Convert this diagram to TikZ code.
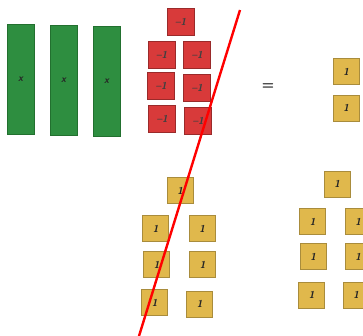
\documentclass[tikz,border=0pt]{standalone}
\usepackage{xcolor}
\usepackage{tikz}
\usetikzlibrary{positioning}

\definecolor{barfill}{HTML}{2E8E40}
\definecolor{bardraw}{HTML}{22702F}
\definecolor{negfill}{HTML}{D83A3A}
\definecolor{negdraw}{HTML}{9A2A2A}
\definecolor{posfill}{HTML}{E0B84C}
\definecolor{posdraw}{HTML}{A98C3C}

\begin{document}
\begin{tikzpicture}[
    x=1pt, y=-1pt,
    xbar/.style={draw=bardraw, fill=barfill, line width=0.8pt, minimum width=27pt, minimum height=110pt, inner sep=0pt, font=\sffamily\bfseries\itshape\normalsize, text=black!85},
    negtile/.style={draw=negdraw, fill=negfill, line width=0.8pt, minimum size=27pt, inner sep=0pt, font=\sffamily\bfseries\itshape\normalsize, text=black!75},
    postile/.style={draw=posdraw, fill=posfill, line width=0.8pt, minimum size=26pt, inner sep=0pt, font=\sffamily\bfseries\itshape\normalsize, text=black!85},
    cancel/.style={red, line width=2.4pt}
]
\clip (0,0) rectangle (363,335);
\fill[white] (0,0) rectangle (363,335);

% --- left side: three x bars and seven -1 tiles ---
\node[xbar] (x1) at (20.5,79) {x};
\node[xbar] (x2) at (63.5,80) {x};
\node[xbar] (x3) at (106.5,81.5) {x};

\node[negtile] (n1) at (180.5,22) {--1};
\node[negtile] (n2) at (161.5,54.5) {--1};
\node[negtile] (n3) at (197,54.5) {--1};
\node[negtile] (n4) at (161,85.5) {--1};
\node[negtile] (n5) at (197,88) {--1};
\node[negtile] (n6) at (162,118.5) {--1};
\node[negtile] (n7) at (198,121) {--1};

\node[font=\sffamily\bfseries\Large, text=black!80] (eq) at (268,87) {=};

% --- right side: two 1 tiles ---
\node[postile] (r1) at (346,71.5) {1};
\node[postile] (r2) at (346,108) {1};

% --- added 1 tiles, both sides ---
\node[postile] (a1) at (180,190.5) {1};
\node[postile] (a2) at (155.5,228.5) {1};
\node[postile] (a3) at (202,228.5) {1};
\node[postile] (a4) at (156.5,264.5) {1};
\node[postile] (a5) at (202.5,264.5) {1};
\node[postile] (a6) at (154.5,302.5) {1};
\node[postile] (a7) at (199.5,304) {1};

\node[postile] (b1) at (337,184) {1};
\node[postile] (b2) at (312.5,221.5) {1};
\node[postile] (b3) at (358,221.5) {1};
\node[postile] (b4) at (313,256.5) {1};
\node[postile] (b5) at (358,256.5) {1};
\node[postile] (b6) at (311.5,295) {1};
\node[postile] (b7) at (356,295) {1};

% --- red cancel line ---
\coordinate (cuttop) at (240,10);
\coordinate (cutbot) at (139,336);
\draw[cancel] (cuttop) -- (cutbot);

\end{tikzpicture}
\end{document}
